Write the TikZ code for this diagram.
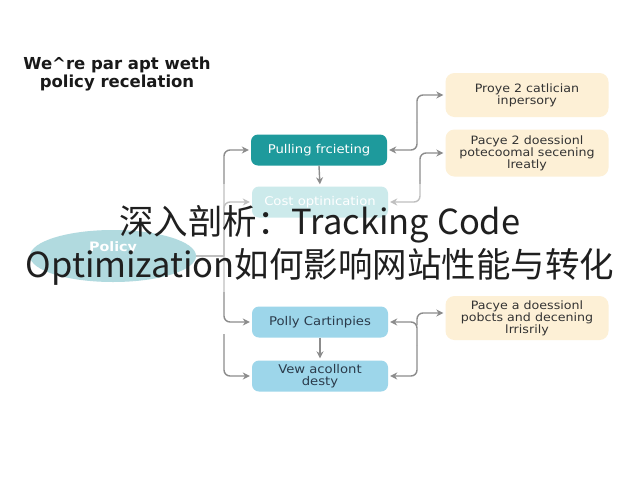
\documentclass[tikz,border=0pt]{standalone}
\usepackage{fontspec}
\setmainfont{Liberation Sans}
\newfontfamily\cjk{Noto Sans CJK SC}
\newfontfamily\diag[FakeStretch=1.1]{DejaVu Sans}
\newfontfamily\titlefont{DejaVu Sans}
\usetikzlibrary{arrows.meta,shapes.geometric,calc}
\definecolor{tealbox}{HTML}{1E9A9C}
\definecolor{costbox}{HTML}{A3D9DC}
\definecolor{ellbox}{HTML}{71BCC5}
\definecolor{bluebox}{HTML}{9DD6EA}
\definecolor{cream}{HTML}{FDF0D6}
\definecolor{conngray}{HTML}{8C8C8C}
\definecolor{darktext}{HTML}{333333}
\definecolor{bluetext}{HTML}{2B3B4B}
\begin{document}
\begin{tikzpicture}[x=1pt,y=-1pt,
  box/.style={rounded corners=7pt, minimum width=136pt, minimum height=31pt,
    align=center, inner sep=2pt, font=\diag\fontsize{12}{13}\selectfont},
  notebox/.style={rounded corners=9pt, fill=cream, minimum width=163pt,
    align=center, inner sep=2pt, text=darktext, font=\diag\fontsize{11.5}{12}\selectfont},
  conn/.style={draw=conngray, line width=1.4pt, rounded corners=6pt,
    -{Stealth[length=7pt,width=7pt]}, shorten >=2pt},
  plainconn/.style={draw=conngray, line width=1.4pt, rounded corners=6pt}]
\useasboundingbox (0,0) rectangle (640,480);
\fill[white] (0,0) rectangle (640,480);

% title
\node[font=\titlefont\fontsize{16.5}{18}\selectfont\bfseries, align=center, inner sep=0pt, text=black!90] (title) at (117,74) {We\^{}re par apt weth\\policy recelation};

% boxes
\node[box, fill=tealbox, text=white] (pf) at (319,150) {Pulling frcieting};
\node[box, fill=costbox, text=white] (co) at (320,202) {Cost optinication};
\node[ellipse, fill=ellbox, minimum width=166pt, minimum height=52pt, text=white,
  font=\diag\fontsize{13}{14}\selectfont\bfseries, align=center] (pol) at (113,256) {Policy\\[2pt]\phantom{Policy}};
\node[box, fill=bluebox, text=bluetext] (pc) at (320,322) {Polly Cartinpies};
\node[box, fill=bluebox, text=bluetext, font=\diag\fontsize{12}{12.5}\selectfont] (vd) at (320,376) {Vew acollont\\desty};

\node[notebox, minimum height=44pt] (n1) at (527,95) {Proye 2 catlician\\inpersory};
\node[notebox, minimum height=47pt] (n2) at (527,153) {Pacye 2 doessionl\\potecoomal secening\\lreatly};
\node[notebox, minimum height=44pt] (n3) at (527,318) {Pacye a doessionl\\pobcts and decening\\lrrisrily};

% vertical arrows
\draw[conn] (pf.south) -- (co.north);
\draw[conn] (pc.south) -- (vd.north);

% left trunk
\coordinate (lt) at (224,256);
\coordinate (lb) at (224,334);
\draw[plainconn] (pol.east) -- (lt);
\draw[conn] (lt) |- (pf.west);
\draw[conn] (lt) |- (co.west);
\draw[conn] (lt) |- (pc.west);
\draw[conn] (lb) |- (vd.west);

% right side
\coordinate (r1) at (417,122);
\draw[conn] (r1) |- (n1.west);
\draw[conn] (r1) |- (pf.east);
\coordinate (r2) at (420,180);
\draw[conn] (r2) |- (n2.west);
\draw[conn] (r2) |- (co.east);
\coordinate (r3) at (417,345);
\draw[conn] (r3) |- (pc.east);
\draw[conn] (r3) |- (vd.east);
\draw[conn] ($(r3)+(0,-20)$) |- ($(n3.west)+(0,-5)$);

% faded band behind overlay text
\fill[white, opacity=0.45] (0,184) rectangle (640,292);

% overlay text
\node[font=\cjk\fontsize{34.5}{43}\selectfont, text=black!88, align=center, inner sep=0pt] (ov) at (320,245)
  {深入剖析：Tracking Code\\Optimization如何影响网站性能与转化};
\end{tikzpicture}
\end{document}
